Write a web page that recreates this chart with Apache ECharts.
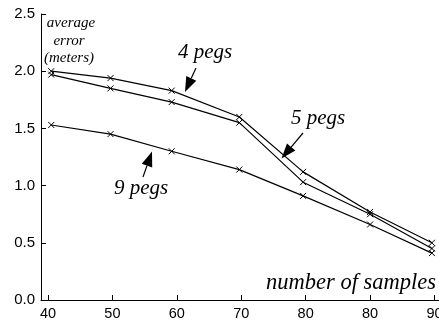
<!DOCTYPE html>
<html><head><meta charset="utf-8">
<script src="https://cdn.jsdelivr.net/npm/echarts@6/dist/echarts.min.js"></script>
<style>html,body{margin:0;padding:0;background:#fff}#c{width:439px;height:321px}</style>
</head><body><div id="c"></div>
<script>
var xValues = [40.5, 49.7, 59.2, 69.7, 79.6, 90, 99.6];
var pegs4 = [2.00, 1.94, 1.83, 1.60, 1.12, 0.77, 0.50];
var pegs5 = [1.97, 1.85, 1.73, 1.55, 1.03, 0.75, 0.45];
var pegs9 = [1.53, 1.45, 1.30, 1.14, 0.91, 0.66, 0.41];
var xTickValues = [40, 50, 60, 70, 80, 90, 100];
var xTickLabels = ['40', '50', '60', '70', '80', '80', '90'];
var yTickLabels = ['0.0', '0.5', '1.0', '1.5', '2.0', '2.5'];

var chart = echarts.init(document.getElementById('c'));
function pairs(arr){ return arr.map(function(v,i){ return [xValues[i], v]; }); }
var cross = 'path://M0,0L10,10M10,0L0,10';
function ser(name, arr){
  return {name:name, type:'line', data:pairs(arr), symbol:cross, symbolSize:6,
    lineStyle:{color:'#000', width:1.2},
    itemStyle:{color:'rgba(0,0,0,0)', borderColor:'#000', borderWidth:1},
    animation:false, silent:true};
}
function arrow(x1,y1,x2,y2){
  var dx=x2-x1, dy=y2-y1, L=Math.sqrt(dx*dx+dy*dy), ux=dx/L, uy=dy/L;
  var hl=15, hw=5.5;
  var bx=x2-ux*hl, by=y2-uy*hl;
  return [
    {type:'line', shape:{x1:x1,y1:y1,x2:bx,y2:by}, style:{stroke:'#000', lineWidth:1.2}},
    {type:'polygon', shape:{points:[[x2,y2],[bx-uy*hw,by+ux*hw],[bx+uy*hw,by-ux*hw]]}, style:{fill:'#000'}}
  ];
}
var serif = 'Liberation Serif';
function txt(x,y,s,size,align){
  return {type:'text', style:{x:x,y:y,text:s,font:'italic '+size+'px "'+serif+'"',fill:'#000',align:align||'center',verticalAlign:'middle'}};
}
var graphics = [
  txt(71,23,'average',15), txt(69,41,'error',15), txt(69,58,'(meters)',15),
  txt(205,52,'4 pegs',21), txt(318,118,'5 pegs',21), txt(141,188,'9 pegs',21),
  txt(436,283,'number of samples',22.5,'right')
].concat(arrow(196,68,185,92)).concat(arrow(303,133,281.5,158.5)).concat(arrow(143,177,152,151.5));

chart.setOption({
  animation:false,
  grid:{left:41, right:0, top:14, bottom:21, containLabel:false, outerBoundsMode:'none'},
  xAxis:{type:'value', min:38.91, max:100.7,
    axisLine:{show:true, lineStyle:{color:'#000', width:1}},
    axisTick:{show:true, inside:true, length:5, customValues:xTickValues, lineStyle:{color:'#000'}},
    axisLabel:{customValues:xTickValues, margin:6, color:'#000', fontSize:14.5, fontFamily:'Liberation Sans',
      hideOverlap:false,
      formatter:function(v){ var i=xTickValues.indexOf(v); return i>=0?xTickLabels[i]:''; }},
    splitLine:{show:false}},
  yAxis:{type:'value', min:0, max:2.5, interval:0.5,
    axisLine:{show:true, lineStyle:{color:'#000', width:1}},
    axisTick:{show:true, inside:true, length:5, lineStyle:{color:'#000'}},
    axisLabel:{margin:6, color:'#000', fontSize:15, fontFamily:'Liberation Sans',
      formatter:function(v){ return yTickLabels[Math.round(v/0.5)]; }},
    splitLine:{show:false}},
  series:[ser('4 pegs',pegs4), ser('5 pegs',pegs5), ser('9 pegs',pegs9)],
  graphic:graphics
});
</script></body></html>
